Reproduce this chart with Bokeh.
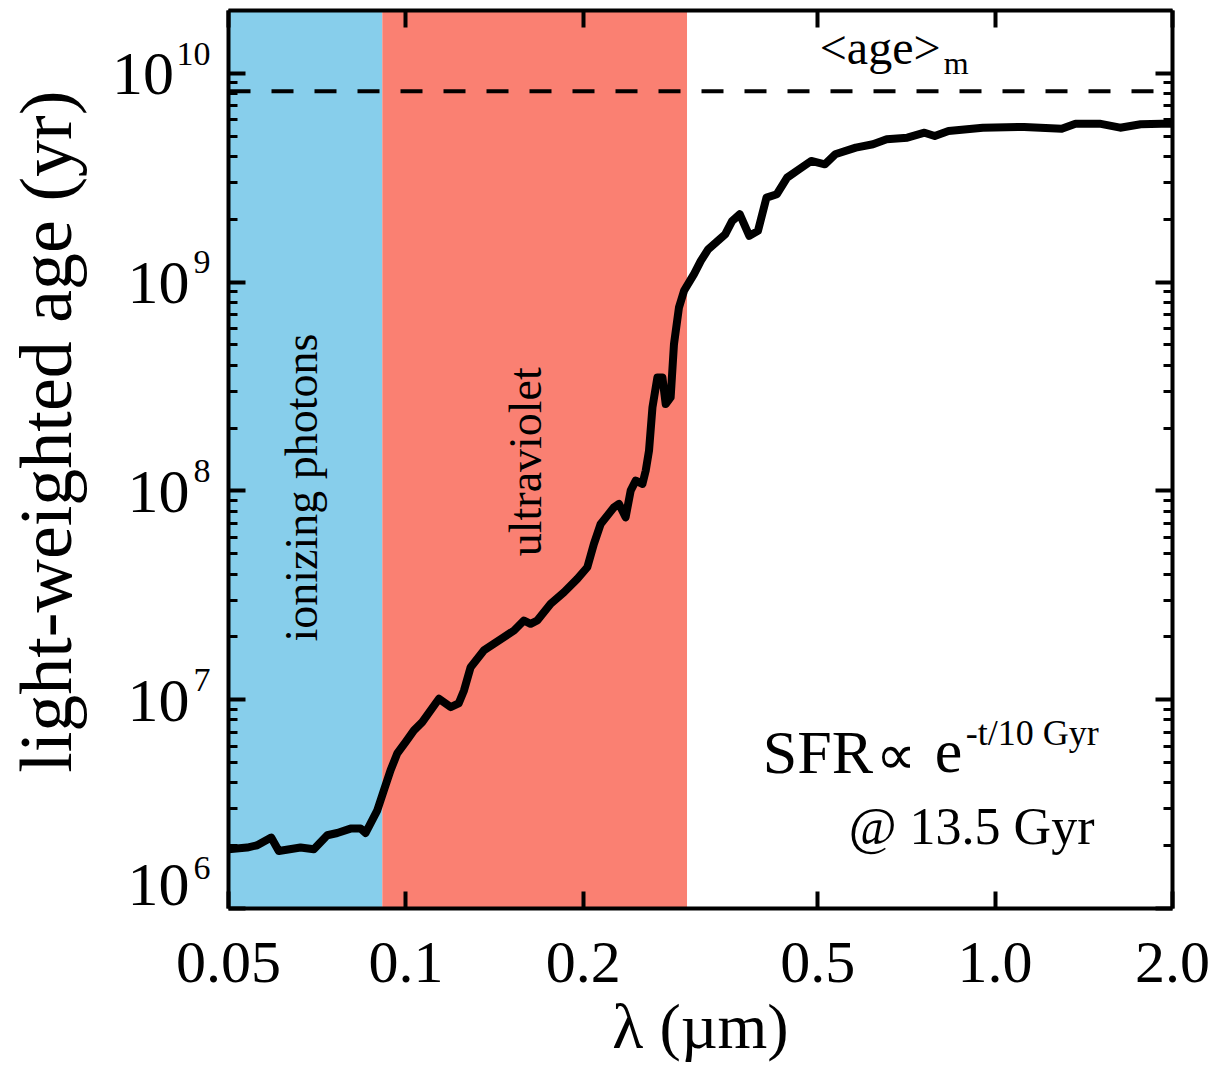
import math
from bokeh.plotting import figure
from bokeh.models import (LogAxis, FixedTicker, BoxAnnotation, Span, Label,
                          CustomLabelingPolicy)
from bokeh.embed import file_html
from bokeh.resources import INLINE

# ---------------- data ----------------
wavelength_um = [0.0500, 0.05378, 0.05593, 0.05908, 0.06086, 0.06625, 0.06979, 0.07355,
                 0.07649, 0.08055, 0.08377, 0.08543, 0.08943, 0.09177, 0.09419, 0.09669,
                 0.09988, 0.1032, 0.1066, 0.1138, 0.1191, 0.1229, 0.1255, 0.1288, 0.1356,
                 0.1467, 0.1526, 0.1586, 0.1628, 0.1671, 0.1761, 0.1855, 0.1954, 0.2032,
                 0.2085, 0.2141, 0.2255, 0.2300, 0.2360, 0.2407, 0.2455, 0.2520, 0.2553,
                 0.2586, 0.2621, 0.2672, 0.2725, 0.2760, 0.2814, 0.2851, 0.2907, 0.2965,
                 0.3083, 0.3166, 0.3260, 0.3484, 0.3579, 0.3686, 0.3827, 0.3958, 0.4093,
                 0.4262, 0.4436, 0.4650, 0.4873, 0.5141, 0.5353, 0.5801, 0.6205, 0.6546,
                 0.7096, 0.7589, 0.7898, 0.8335, 0.9530, 1.120, 1.297, 1.369, 1.504,
                 1.630, 1.766, 1.914, 2.000]
age_yr = [1.920e6, 1.958e6, 2.009e6, 2.186e6, 1.886e6, 1.958e6, 1.922e6, 2.243e6,
          2.300e6, 2.414e6, 2.414e6, 2.300e6, 2.953e6, 3.681e6, 4.589e6, 5.535e6,
          6.269e6, 7.131e6, 7.812e6, 1.011e7, 9.218e6, 9.600e6, 1.108e7, 1.432e7, 1.722e7,
          1.993e7, 2.146e7, 2.396e7, 2.310e7, 2.396e7, 2.879e7, 3.272e7, 3.793e7, 4.310e7,
          5.578e7, 6.953e7, 8.347e7, 8.666e7, 7.476e7, 1.003e8, 1.120e8, 1.080e8, 1.251e8,
          1.559e8, 2.512e8, 3.496e8, 3.496e8, 2.608e8, 2.804e8, 5.050e8, 7.559e8, 9.088e8,
          1.092e9, 1.264e9, 1.439e9, 1.697e9, 1.965e9, 2.116e9, 1.666e9, 1.760e9, 2.540e9,
          2.637e9, 3.166e9, 3.473e9, 3.805e9, 3.669e9, 4.097e9, 4.406e9, 4.575e9, 4.833e9,
          4.919e9, 5.197e9, 5.012e9, 5.295e9, 5.492e9, 5.535e9, 5.431e9, 5.740e9, 5.740e9,
          5.492e9, 5.702e9, 5.740e9, 5.740e9]

mass_weighted_age = 8.2e9              # <age>_m dashed line
band_edges_um = [0.05, 0.0912, 0.30]   # ionizing | ultraviolet
band_colors = ["#87CEEB", "#FA8072"]

x_ticks = [0.05, 0.1, 0.2, 0.5, 1.0, 2.0]
x_tick_labels = ["0.05", "0.1", "0.2", "0.5", "1.0", "2.0"]
y_ticks = [1e6, 1e7, 1e8, 1e9, 1e10]
y_tick_exponents = ["6", "7", "8", "9", "10"]
minor_mantissas = [2, 3, 4, 5, 6, 7, 8, 9]

FONT = "Liberation Serif"
NBSP = "\u00a0"

p = figure(width=1218, height=1069, x_axis_type="log", y_axis_type="log",
           x_range=(0.05, 2.0), y_range=(1e6, 2e10),
           output_backend="svg", toolbar_location=None,
           min_border_left=228, min_border_right=46, min_border_top=10,
           min_border_bottom=161, background_fill_color="white",
           border_fill_color="white", outline_line_color=None)
p.grid.visible = False

xticker = FixedTicker(ticks=x_ticks, minor_ticks=[])
yticker = FixedTicker(ticks=y_ticks,
                      minor_ticks=[m * t for t in y_ticks for m in minor_mantissas])

hide_all = CustomLabelingPolicy(code="""
for (const i of Array.from(indices)) { indices.unset(i) }
return indices
""")


def style_axis(ax, ticker):
    ax.ticker = ticker
    ax.axis_line_width = 4
    ax.axis_line_color = "black"
    ax.major_tick_in = 17
    ax.major_tick_out = 0
    ax.minor_tick_in = 9
    ax.minor_tick_out = 0
    ax.major_tick_line_width = 4
    ax.minor_tick_line_width = 3
    ax.major_tick_line_color = "black"
    ax.minor_tick_line_color = "black"
    ax.major_label_text_font = FONT
    ax.major_label_text_color = "black"
    ax.axis_label_text_font = FONT
    ax.axis_label_text_color = "black"
    ax.axis_label_text_font_style = "normal"


def no_labels(ax):
    ax.major_label_policy = hide_all
    ax.major_label_text_font_size = "1px"
    ax.major_label_standoff = 0


# bottom axis
xa = p.xaxis[0]
style_axis(xa, xticker)
xa.major_label_overrides = {t: s for t, s in zip(x_ticks, x_tick_labels)}
xa.major_label_text_font_size = "60px"
xa.major_label_standoff = 34
xa.axis_label = "\u03bb (\u00b5m)"
xa.axis_label_text_font_size = "64px"
xa.axis_label_standoff = 6

# left axis: ticks + exponents (raised with empty extra lines);
# the lowest label sits just above the bottom edge, as in the reference
ya = p.yaxis[0]
style_axis(ya, yticker)
ya.major_label_overrides = {
    t: e + ("\n" + NBSP) * (2 if t == y_ticks[0] else 1)
    for t, e in zip(y_ticks, y_tick_exponents)}
ya.major_label_text_font_size = "34px"
ya.major_label_text_line_height = 1.1
ya.major_label_standoff = 18

# outer left axis: the "10" bases and the axis title
yb = LogAxis()
style_axis(yb, yticker)
yb.axis_line_color = None
yb.major_tick_line_color = None
yb.minor_tick_line_color = None
yb.major_tick_in = 0
yb.minor_tick_in = 0
yb.major_label_overrides = {
    t: "10" + (NBSP if len(e) > 1 else "") + ("\n" + NBSP if t == y_ticks[0] else "")
    for t, e in zip(y_ticks, y_tick_exponents)}
yb.major_label_text_font_size = "62px"
yb.major_label_text_line_height = 0.72
yb.major_label_standoff = -16
yb.axis_label = NBSP * 3 + "light-weighted age (yr)"
yb.axis_label_text_font_size = "74px"
yb.axis_label_standoff = 22
p.add_layout(yb, "left")

top = LogAxis()
style_axis(top, xticker)
no_labels(top)
p.add_layout(top, "above")

right = LogAxis()
style_axis(right, yticker)
no_labels(right)
p.add_layout(right, "right")

# wavelength bands
for i, c in enumerate(band_colors):
    p.add_layout(BoxAnnotation(left=band_edges_um[i], right=band_edges_um[i + 1],
                               fill_color=c, fill_alpha=1.0, line_color=None,
                               level="underlay"))

# mass-weighted age line
p.add_layout(Span(location=mass_weighted_age, dimension="width", line_color="black",
                  line_width=4, line_dash="22 21"))

# light-weighted age curve
p.line(wavelength_um, age_yr, line_color="black", line_width=8, line_join="round")


def lab(x, y, text, size, align="left", baseline="alphabetic", angle=0.0, font=FONT):
    p.add_layout(Label(x=x, y=y, text=text, text_font=font, text_font_size=size,
                       text_align=align, text_baseline=baseline, angle=angle,
                       text_color="black"))


lab(0.0665, 1.037e8, "ionizing photons", "46px", align="center", angle=math.pi / 2)
lab(0.1596, 1.38e8, "ultraviolet", "46px", align="center", angle=math.pi / 2)
lab(0.504, 1.331e10, "<age>", "48px")
lab(0.818, 1.12e10, "m", "32px")
lab(0.4033, 5.613e6, "SFR", "62px")
lab(0.6783, 5.444e6, "\u221d", "56px", align="center", baseline="middle")
lab(0.7898, 5.613e6, "e", "62px")
lab(0.8918, 6.90e6, "-t/10 Gyr", "36px")
lab(0.5643, 2.477e6, "@ 13.5 Gyr", "52px")

open("out.html", "w").write(file_html(p, INLINE))
